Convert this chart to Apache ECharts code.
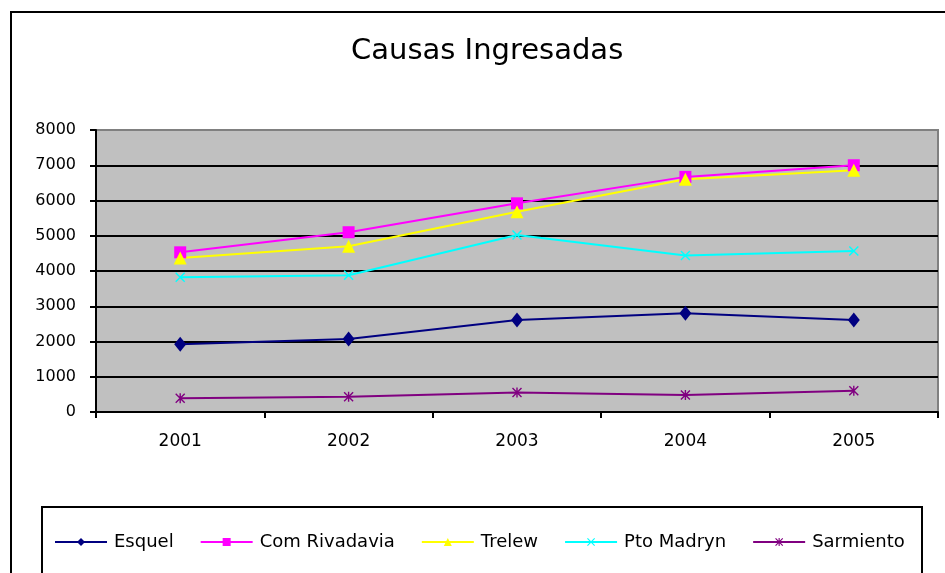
<!DOCTYPE html>
<html>
<head>
<meta charset="utf-8">
<script src="https://cdn.jsdelivr.net/npm/echarts@6/dist/echarts.min.js"></script>
<style>
html,body{margin:0;padding:0;background:#fff;}
#chart{width:945px;height:573px;}
</style>
</head>
<body>
<div id="chart"></div>
<script>
const categories = ['2001', '2002', '2003', '2004', '2005'];
const esquel = [1920, 2070, 2610, 2800, 2610];
const comRivadavia = [4530, 5100, 5920, 6670, 7000];
const trelew = [4370, 4700, 5680, 6600, 6860];
const ptoMadryn = [3820, 3880, 5020, 4440, 4570];
const sarmiento = [390, 435, 550, 480, 605];
const seriesNames = ['Esquel', 'Com Rivadavia', 'Trelew', 'Pto Madryn', 'Sarmiento'];
const yTicks = { min: 0, max: 8000, interval: 1000 };

const xPath = 'path://M1,0 L10,9 L9,10 L0,1 Z M9,0 L10,1 L1,10 L0,9 Z';
const starPath = 'path://M1,0 L10,9 L9,10 L0,1 Z M9,0 L10,1 L1,10 L0,9 Z M4.3,0 L5.7,0 L5.7,10 L4.3,10 Z';

const font = 'DejaVu Sans';
const chart = echarts.init(document.getElementById('chart'), null, { renderer: 'canvas' });

function mk(name, data, color, symbol, size) {
  return {
    name: name, type: 'line', data: data,
    symbol: symbol, symbolSize: size, showSymbol: true,
    lineStyle: { color: color, width: 2 },
    itemStyle: { color: color, borderColor: color, borderWidth: 0 },
    emphasis: { disabled: true },
    animation: false
  };
}

const gridColors = ['#000','#000','#000','#000','#000','#000','#000','#000','#808080'];

chart.setOption({
  backgroundColor: '#ffffff',
  animation: false,
  title: {
    text: 'Causas Ingresadas',
    left: 346, top: 32,
    textStyle: { fontFamily: font, fontSize: 29, fontWeight: 'normal', color: '#000' }
  },
  graphic: [
    { type: 'rect', z: -10, shape: { x: 11, y: 12, width: 1000, height: 1000 },
      style: { fill: 'none', stroke: '#000', lineWidth: 2 } },
    { type: 'rect', z: -10, shape: { x: 42, y: 507, width: 880, height: 200 },
      style: { fill: 'none', stroke: '#000', lineWidth: 2 } }
  ],
  legend: {
    data: seriesNames,
    left: 54, top: 533,
    padding: 0,
    itemWidth: 52, itemHeight: 10, itemGap: 26,
    textStyle: { fontFamily: font, fontSize: 18, color: '#000', padding: [0,0,0,2] },
    selectedMode: false
  },
  grid: {
    left: 96, right: 7, top: 130, bottom: 161,
    show: true, backgroundColor: '#c0c0c0', borderColor: '#808080', borderWidth: 2
  },
  xAxis: {
    type: 'category', data: categories, boundaryGap: true,
    axisLine: { lineStyle: { color: '#000', width: 2 } },
    axisTick: { show: true, length: 6, interval: 0, lineStyle: { color: '#000', width: 2 } },
    axisLabel: { fontFamily: font, fontSize: 17, color: '#000', margin: 21 },
    splitLine: { show: false }
  },
  yAxis: {
    type: 'value', min: yTicks.min, max: yTicks.max, interval: yTicks.interval,
    axisLine: { show: true, lineStyle: { color: '#000', width: 2 } },
    axisTick: { show: true, length: 6, lineStyle: { color: '#000', width: 2 } },
    axisLabel: { fontFamily: font, fontSize: 16, color: '#000', margin: 20,
      formatter: function (v) { return String(v); } },
    splitLine: { show: true, lineStyle: { color: gridColors, width: 2 } }
  },
  series: [
    mk(seriesNames[0], esquel, '#000080', 'diamond', [12, 15]),
    mk(seriesNames[1], comRivadavia, '#ff00ff', 'rect', 12),
    mk(seriesNames[2], trelew, '#ffff00', 'triangle', 13),
    mk(seriesNames[3], ptoMadryn, '#00ffff', xPath, 10),
    mk(seriesNames[4], sarmiento, '#800080', starPath, 10)
  ]
});
</script>
</body>
</html>
